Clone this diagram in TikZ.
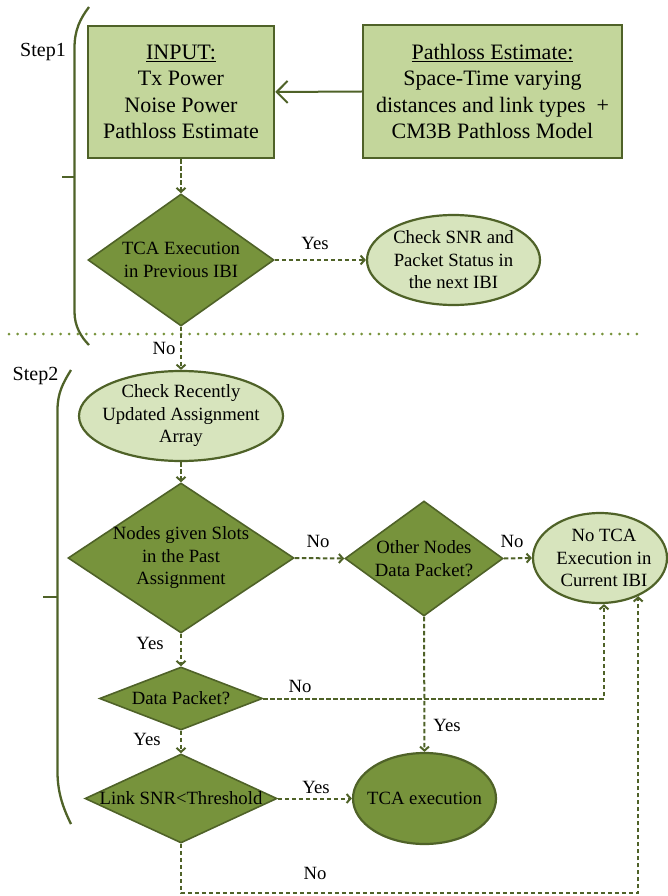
\documentclass[tikz,border=0pt]{standalone}
\usepackage{fontspec}
\setmainfont{Liberation Serif}
\usetikzlibrary{shapes.geometric,arrows.meta,calc}
\definecolor{boxfill}{HTML}{C3D69B}
\definecolor{dkolive}{HTML}{4F6228}
\definecolor{olivefill}{HTML}{77933C}
\definecolor{lightfill}{HTML}{D7E4BD}
\newcommand\bigfnt{\fontsize{22}{26.5}\selectfont}
\newcommand\midfnt{\fontsize{18.7}{22.5}\selectfont}
\newcommand\stepfnt{\fontsize{20}{24}\selectfont}
\begin{document}
\begin{tikzpicture}[x=1pt,y=-1pt,
  inbox/.style={rectangle, draw=dkolive, line width=2.5pt, fill=boxfill, inner sep=0pt, align=center, font=\bigfnt},
  dia/.style={diamond, draw=dkolive, line width=1.6pt, fill=olivefill, inner sep=0pt},
  lell/.style={ellipse, draw=dkolive, line width=2.2pt, fill=lightfill, inner sep=0pt},
  dell/.style={ellipse, draw=dkolive, line width=2.2pt, fill=olivefill, inner sep=0pt},
  txt/.style={align=center, inner sep=0pt, font=\midfnt},
  lbl/.style={inner sep=0pt, font=\midfnt},
  conn/.style={draw=dkolive, line width=2pt, dash pattern=on 4.5pt off 2.5pt, -{Straight Barb[length=4pt,width=9pt]}},
  brace/.style={draw=dkolive, line width=2.3pt}
]
\useasboundingbox (0,0) rectangle (667,896);

% separator
\draw[olivefill, line width=3pt, line cap=round, dash pattern=on 0pt off 8.6pt] (9,334) -- (640,334);

% brackets
\draw[brace] (89,7) .. controls (80,19) and (74.5,30) .. (74.5,48) -- (74.5,312) .. controls (74.5,326) and (81,337) .. (89,345);
\draw[brace] (62,177) -- (74.5,177);
\draw[brace] (71,370) .. controls (63,383) and (57.5,393) .. (57.5,410) -- (57.5,772) .. controls (57.5,792) and (63,808) .. (71,824);
\draw[brace] (43,597) -- (57.5,597);
\node[font=\stepfnt, inner sep=0pt] (s1) at (43,52) {Step1};
\node[font=\stepfnt, inner sep=0pt] (s2) at (35.5,376) {Step2};

% top boxes
\node[inbox, minimum width=186pt, minimum height=132pt] (in) at (181,92) {\underline{INPUT:}\\Tx Power\\Noise Power\\Pathloss Estimate};
\node[inbox, minimum width=259pt, minimum height=133pt] (pl) at (492.5,91.5) {\underline{Pathloss Estimate:}\\Space-Time varying\\distances and link types\ \ +\\CM3B Pathloss Model};

% shapes
\node[dia, minimum width=186pt, minimum height=132pt] (d1) at (181,260) {};
\node[lell, minimum width=173pt, minimum height=90pt] (e1) at (453.5,260) {};
\node[lell, minimum width=204pt, minimum height=90pt] (e2) at (181,416) {};
\node[dia, minimum width=226pt, minimum height=150pt] (d2) at (181,558) {};
\node[dia, minimum width=158pt, minimum height=115pt] (d3) at (424,558.5) {};
\node[lell, minimum width=134pt, minimum height=90pt] (e3) at (600,558) {};
\node[dia, minimum width=163pt, minimum height=63pt] (d4) at (181,698.5) {};
\node[dia, minimum width=192pt, minimum height=89pt] (d5) at (181,798.5) {};
\node[dell, minimum width=143pt, minimum height=91pt] (e4) at (424.5,798.5) {};

% texts
\node[txt] (t1) at (d1) {TCA Execution\\in Previous IBI};
\node[txt] (t2) at (e1) {Check SNR and\\Packet Status in\\the next IBI};
\node[txt] (t3) at (e2) {Check Recently\\Updated Assignment\\Array};
\node[txt] (t4) at (d2) {Nodes given Slots\\in the Past\\Assignment};
\node[txt] (t5) at (d3) {Other Nodes\\Data Packet?};
\node[txt] (t6) at (604,558) {No TCA\\Execution in\\Current IBI};
\node[txt] (t7) at (d4) {Data Packet?};
\node[txt] (t8) at (d5) {Link SNR<Threshold};
\node[txt] (t9) at (e4) {TCA execution};

% connectors
\draw[dkolive, line width=2pt, -{Straight Barb[length=11pt,width=22pt]}] (pl.west) -- (in.east);
\draw[conn] (in.south) -- (d1.north);
\draw[conn] (d1.east) -- (e1.west);
\draw[conn] (d1.south) -- (e2.north);
\draw[conn] (e2.south) -- (d2.north);
\draw[conn] (d2.east) -- (d3.west);
\draw[conn] (d3.east) -- (e3.west);
\draw[conn] (d2.south) -- (d4.north);
\draw[conn] (d4.east) -| ([xshift=4pt]e3.south);
\draw[conn] (d3.south) -- (e4.north);
\draw[conn] (d4.south) -- (d5.north);
\draw[conn] (d5.east) -- (e4.west);
\coordinate (b13) at (181,893);
\draw[conn] (d5.south) -- (b13) -| (e3.-45);

% labels
\node[lbl] (l1) at (315,243) {Yes};
\node[lbl] (l2) at (164,348) {No};
\node[lbl] (l3) at (318,541) {No};
\node[lbl] (l4) at (512,541) {No};
\node[lbl] (l5) at (150,643) {Yes};
\node[lbl] (l6) at (300,686) {No};
\node[lbl] (l7) at (447,725) {Yes};
\node[lbl] (l8) at (147,739) {Yes};
\node[lbl] (l9) at (316,787) {Yes};
\node[lbl] (l10) at (315,873) {No};
\end{tikzpicture}
\end{document}
